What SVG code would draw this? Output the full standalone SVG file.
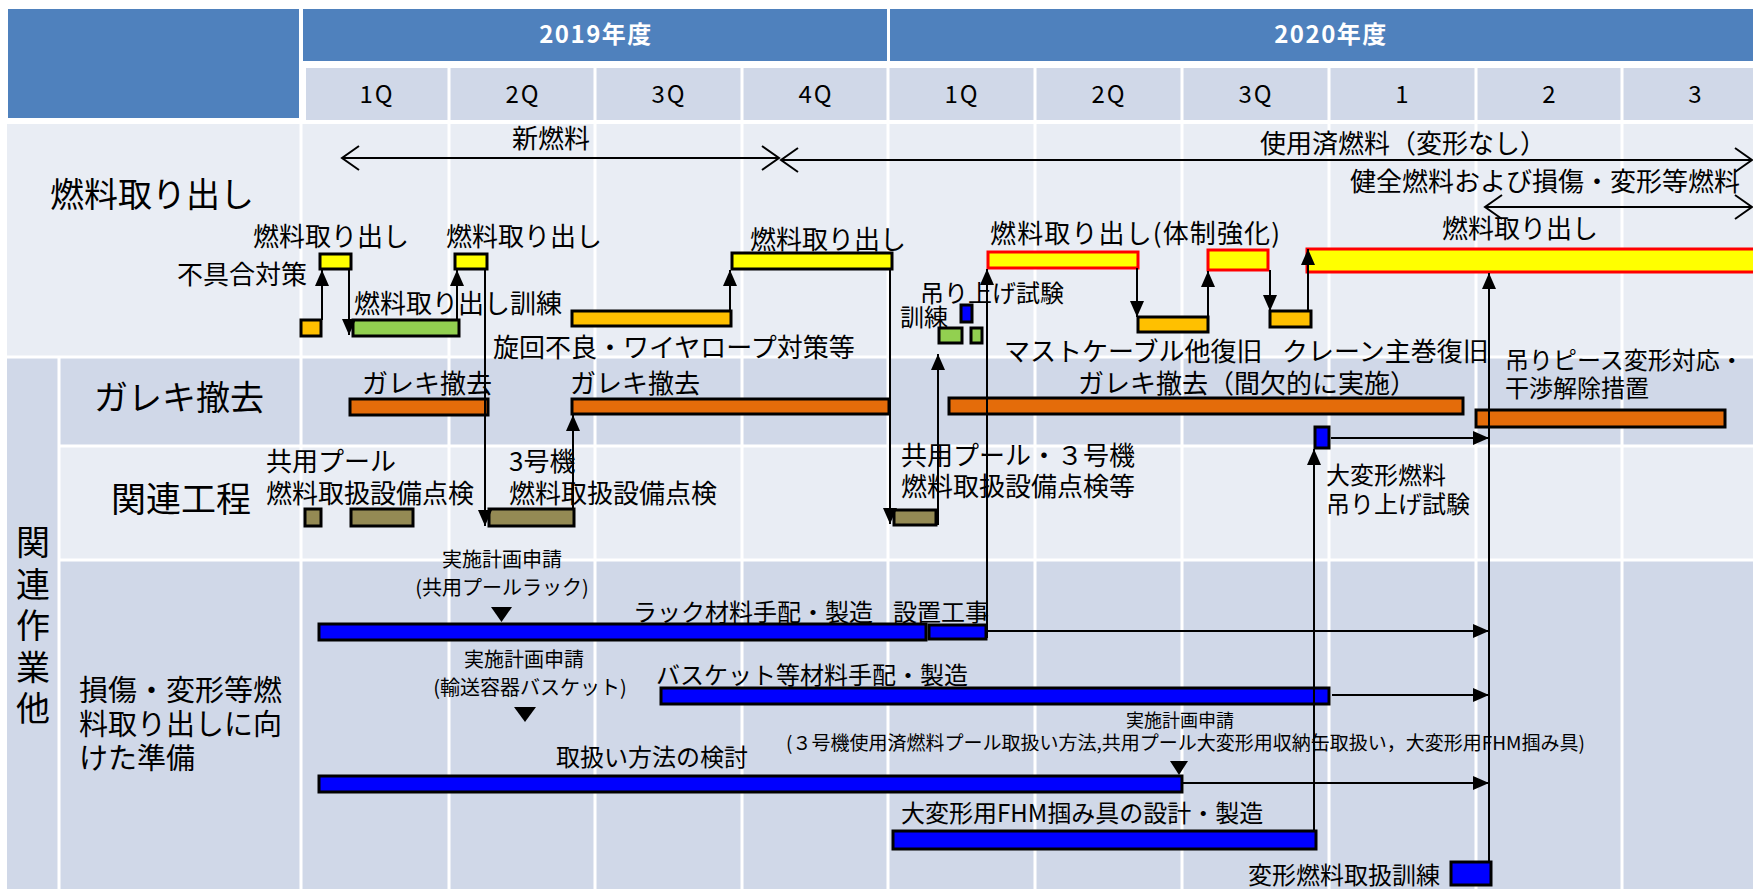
<svg xmlns="http://www.w3.org/2000/svg" width="1753" height="889" viewBox="0 0 1753 889">
<style>
text{font-family:"Noto Sans CJK JP","Noto Sans",sans-serif;fill:#000}
.hd{fill:#4f81bd}.q{fill:#d0d8e8}.lt{fill:#e9edf4}.dk{fill:#d0d8e8}
.gw{stroke:#fff;stroke-width:3;fill:none}
.ht{fill:#fff;font-weight:bold;font-size:24px;letter-spacing:1.5px;text-anchor:middle}
.qt{font-size:24px;text-anchor:middle;letter-spacing:2px}
.bar{stroke:#000;stroke-width:3}
.rb{stroke:#ff0000;stroke-width:3;fill:#ffff00}
.y{fill:#ffff00}.o{fill:#ffc000}.g{fill:#92d050}.r{fill:#e46c0a}.ol{fill:#948a54}.b{fill:#0000ff}
.c{stroke:#000;stroke-width:2;fill:none}
.f26{font-size:26px}.f24{font-size:24px}.f20{font-size:20px}
.big{font-size:34px}
</style>
<defs>
<marker id="ah" markerUnits="userSpaceOnUse" markerWidth="16" markerHeight="14" refX="16" refY="7" orient="auto"><path d="M0,0 L16,7 L0,14 z" fill="#000"/></marker>
<marker id="oh" markerUnits="userSpaceOnUse" markerWidth="20" markerHeight="26" refX="18" refY="13" orient="auto-start-reverse"><path d="M1,1 L18,13 L1,25" fill="none" stroke="#000" stroke-width="2"/></marker>
</defs>
<rect width="1753" height="889" fill="#fff"/>
<g id="header">
<rect class="hd" x="8" y="9" width="291" height="109"/>
<rect class="hd" x="303" y="9" width="584" height="52"/>
<rect class="hd" x="890" y="9" width="863" height="52"/>
<text class="ht" x="596" y="43">2019年度</text>
<text class="ht" x="1331" y="43">2020年度</text>
<rect class="q" x="306" y="68" width="1447" height="52"/>
<path class="gw" d="M449,68V120M595,68V120M742,68V120M888,68V120M1035,68V120M1182,68V120M1329,68V120M1476,68V120M1622,68V120"/>
<text class="qt" x="377" y="103">1Q</text>
<text class="qt" x="523" y="103">2Q</text>
<text class="qt" x="669" y="103">3Q</text>
<text class="qt" x="816" y="103">4Q</text>
<text class="qt" x="962" y="103">1Q</text>
<text class="qt" x="1109" y="103">2Q</text>
<text class="qt" x="1256" y="103">3Q</text>
<text class="qt" x="1403" y="103">1</text>
<text class="qt" x="1550" y="103">2</text>
<text class="qt" x="1696" y="103">3</text>
</g>
<g id="body-grid">
<rect class="lt" x="7" y="122" width="1746" height="235"/>
<rect class="dk" x="7" y="357" width="1746" height="89"/>
<rect class="lt" x="60" y="446" width="1693" height="114"/>
<rect class="dk" x="60" y="560" width="1693" height="329"/>
<rect class="dk" x="7" y="357" width="52" height="532"/>
<path class="gw" d="M7,122.5H1753M7,357H1753M60,446H1753M60,560H1753M59,357V889M301,122V889M449,122V889M595,122V889M742,122V889M888,122V889M1035,122V889M1182,122V889M1329,122V889M1476,122V889M1622,122V889"/>
</g>
<g id="row-labels">
<text x="50" y="207" style="font-size:34px">燃料取り出し</text>
<text class="big" x="94" y="410">ガレキ撤去</text>
<text x="111" y="512" style="font-size:35px">関連工程</text>
<g style="font-size:34px;text-anchor:middle">
<text x="33" y="555">関</text><text x="33" y="597">連</text><text x="33" y="638">作</text><text x="33" y="680">業</text><text x="33" y="721">他</text>
</g>
<g style="font-size:29px">
<text x="79" y="701">損傷・変形等燃</text>
<text x="79" y="735">料取り出しに向</text>
<text x="79" y="769">けた準備</text>
</g>
</g>
<g id="phase-labels" class="f26">
<text x="512" y="148">新燃料</text>
<text x="1260" y="153">使用済燃料（変形なし）</text>
<text x="1350" y="191">健全燃料および損傷・変形等燃料</text>
</g>
<g id="n-fuel1"><text class="f26" x="253" y="246">燃料取り出し</text><rect class="bar y" x="320" y="254" width="31" height="15"/></g>
<g id="n-fuel2"><text class="f26" x="446" y="246">燃料取り出し</text><rect class="bar y" x="455" y="254" width="32" height="15"/></g>
<g id="n-fix"><text class="f26" x="177" y="284">不具合対策</text><rect class="bar o" x="301" y="320" width="20" height="16"/></g>
<g id="n-train"><text class="f26" x="354" y="313">燃料取り出し訓練</text><rect class="bar g" x="353" y="320" width="106" height="16"/></g>
<g id="n-wire"><text class="f26" x="493" y="357">旋回不良・ワイヤロープ対策等</text><rect class="bar o" x="572" y="311" width="159" height="15"/></g>
<g id="n-fuel3"><text class="f26" x="750" y="249">燃料取り出し</text><rect class="bar y" x="732" y="253" width="160" height="16"/></g>
<g id="n-fuel4"><text class="f26" x="990" y="243" textLength="290">燃料取り出し(体制強化)</text><rect class="rb" x="988" y="252" width="150" height="16"/></g>
<g id="n-mast"><text class="f26" x="1004" y="361">マストケーブル他復旧</text><rect class="bar o" x="1138" y="317" width="70" height="15"/></g>
<g id="n-fuel5"><rect class="rb" x="1208" y="250" width="60" height="20"/></g>
<g id="n-crane"><text class="f26" x="1282" y="361">クレーン主巻復旧</text><rect class="bar o" x="1270" y="311" width="41" height="16"/></g>
<g id="n-fuel6"><text class="f26" x="1442" y="238">燃料取り出し</text><rect class="rb" x="1307" y="249" width="460" height="23"/></g>
<g id="n-lifttest"><text class="f24" x="920" y="302">吊り上げ試験</text><rect class="bar b" x="961" y="305" width="11" height="17"/></g>
<g id="n-kunren"><text class="f24" x="900" y="326">訓練</text><rect class="bar g" x="939" y="328" width="23" height="15"/><rect class="bar g" x="971" y="328" width="11" height="15"/></g>
<g id="n-gareki1"><text class="f26" x="362" y="393">ガレキ撤去</text><rect class="bar r" x="350" y="399" width="138" height="16"/></g>
<g id="n-gareki2"><text class="f26" x="570" y="393">ガレキ撤去</text><rect class="bar r" x="572" y="399" width="317" height="15"/></g>
<g id="n-gareki3"><text class="f26" x="1078" y="393">ガレキ撤去（間欠的に実施）</text><rect class="bar r" x="949" y="398" width="514" height="16"/></g>
<g id="n-piece"><text class="f24" x="1505" y="369">吊りピース変形対応・</text><text class="f24" x="1505" y="397">干渉解除措置</text><rect class="bar r" x="1476" y="410" width="249" height="17"/></g>
<g id="n-bigtest"><text class="f24" x="1326" y="484">大変形燃料</text><text class="f24" x="1326" y="513">吊り上げ試験</text><rect class="bar b" x="1315" y="427" width="14" height="21"/></g>
<g id="n-pool1"><text class="f26" x="266" y="471">共用プール</text><text class="f26" x="266" y="503">燃料取扱設備点検</text><rect class="bar ol" x="305" y="509" width="16" height="17"/><rect class="bar ol" x="351" y="509" width="62" height="17"/></g>
<g id="n-unit3"><text class="f26" x="509" y="471">3号機</text><text class="f26" x="509" y="503">燃料取扱設備点検</text><rect class="bar ol" x="489" y="509" width="85" height="17"/></g>
<g id="n-pool3"><text class="f26" x="901" y="465">共用プール・３号機</text><text class="f26" x="901" y="496">燃料取扱設備点検等</text><rect class="bar ol" x="894" y="510" width="42" height="15"/></g>
<g id="n-rack"><text class="f20" x="502" y="567" text-anchor="middle">実施計画申請</text><text class="f20" x="502" y="595" text-anchor="middle">(共用プールラック)</text><polygon points="491,607 512,607 501.5,622"/><text class="f24" x="633" y="621">ラック材料手配・製造</text><rect class="bar b" x="319" y="624" width="607" height="16"/></g>
<g id="n-install"><text class="f24" x="893" y="621">設置工事</text><rect class="bar b" x="929" y="625" width="57" height="14"/></g>
<g id="n-basket"><text class="f20" x="524" y="667" text-anchor="middle">実施計画申請</text><text class="f20" x="530" y="695" text-anchor="middle">(輸送容器バスケット)</text><polygon points="514,707 536,707 525,722"/><text class="f24" x="656" y="684">バスケット等材料手配・製造</text><rect class="bar b" x="661" y="688" width="668" height="16"/></g>
<g id="n-method"><text x="1180" y="727" text-anchor="middle" style="font-size:18px">実施計画申請</text><text x="786" y="750" style="font-size:19px">(３号機使用済燃料プール取扱い方法,共用プール大変形用収納缶取扱い，大変形用FHM掴み具)</text><polygon points="1170,761 1188,761 1179,775"/><text class="f24" x="556" y="766">取扱い方法の検討</text><rect class="bar b" x="319" y="776" width="863" height="16"/></g>
<g id="n-fhm"><text class="f24" x="901" y="822">大変形用FHM掴み具の設計・製造</text><rect class="bar b" x="893" y="831" width="423" height="18"/></g>
<g id="n-deftrain"><text class="f24" x="1248" y="884">変形燃料取扱訓練</text><rect class="bar b" x="1451" y="862" width="40" height="23"/></g>
<g id="connectors">
<path class="c" d="M342,158H779" marker-start="url(#oh)" marker-end="url(#oh)"/>
<path class="c" d="M781,160H1752" marker-start="url(#oh)" marker-end="url(#oh)"/>
<path class="c" d="M1485,207H1752" marker-start="url(#oh)" marker-end="url(#oh)"/>
<path class="c" d="M322,320V270" marker-end="url(#ah)"/>
<path class="c" d="M349,269V335" marker-end="url(#ah)"/>
<path class="c" d="M457,320V270" marker-end="url(#ah)"/>
<path class="c" d="M485,270V526" marker-end="url(#ah)"/>
<path class="c" d="M573,509V415" marker-end="url(#ah)"/>
<path class="c" d="M730,311V270" marker-end="url(#ah)"/>
<path class="c" d="M890,269V524" marker-end="url(#ah)"/>
<path class="c" d="M938,525V354" marker-end="url(#ah)"/>
<path class="c" d="M987,638V269" marker-end="url(#ah)"/>
<path class="c" d="M987,631H1489" marker-end="url(#ah)"/>
<path class="c" d="M1137,268V317" marker-end="url(#ah)"/>
<path class="c" d="M1208,317V271" marker-end="url(#ah)"/>
<path class="c" d="M1270,270V311" marker-end="url(#ah)"/>
<path class="c" d="M1308,311V249" marker-end="url(#ah)"/>
<path class="c" d="M1314,831V449" marker-end="url(#ah)"/>
<path class="c" d="M1331,438H1489" marker-end="url(#ah)"/>
<path class="c" d="M1489,862V273" marker-end="url(#ah)"/>
<path class="c" d="M1332,695H1489" marker-end="url(#ah)"/>
<path class="c" d="M1182,783H1489" marker-end="url(#ah)"/>
</g>
</svg>
